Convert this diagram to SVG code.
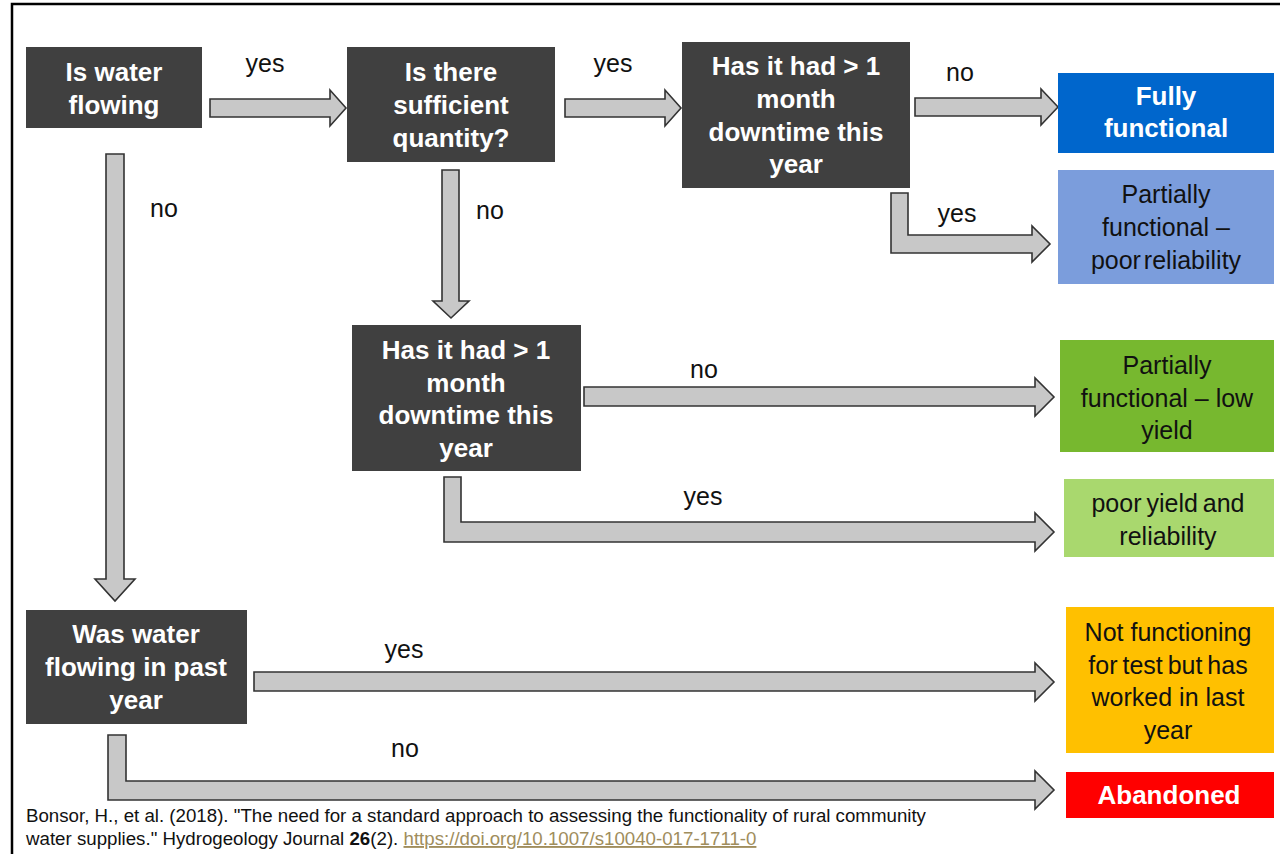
<svg xmlns="http://www.w3.org/2000/svg" width="1280" height="854" viewBox="0 0 1280 854">
<defs>
<style>
.q{fill:#404040}
.qt{font-family:"Liberation Sans",Arial,sans-serif;font-weight:bold;font-size:26px;fill:#fff;text-anchor:middle}
.rt{font-family:"Liberation Sans",Arial,sans-serif;font-size:25px;fill:#111;text-anchor:middle}
.wt{font-family:"Liberation Sans",Arial,sans-serif;font-weight:bold;font-size:26px;fill:#fff;text-anchor:middle}
.lbl{font-family:"Liberation Sans",Arial,sans-serif;font-size:25px;fill:#111;text-anchor:middle}
.ar{fill:#c8c8c8;stroke:#333;stroke-width:1.6;stroke-linejoin:miter}
.cite{font-family:"Liberation Sans",Arial,sans-serif;font-size:18.7px;fill:#111}
</style>
</defs>
<rect x="0" y="0" width="1280" height="854" fill="#fff"/>
<rect x="12" y="4" width="1300" height="900" fill="#fff" stroke="#000" stroke-width="2.5"/>

<g id="connectors">
<path class="ar" d="M210,99 H330 V90 L346,108 L330,126 V117 H210 Z"/>
<path class="ar" d="M565,99 H665 V90 L681,108 L665,126 V117 H565 Z"/>
<path class="ar" d="M915,98 H1041 V89 L1058,107 L1041,125 V116 H915 Z"/>
<path class="ar" d="M891,193 H908 V235 H1032 V226 L1050,244 L1032,262 V253 H891 Z"/>
<path class="ar" d="M106,154 H124 V579 H135 L115,601 L95,579 H106 Z"/>
<path class="ar" d="M442,170 H459 V301 H469 L451,318 L433,301 H442 Z"/>
<path class="ar" d="M584,387 H1035 V378 L1054,397 L1035,416 V406 H584 Z"/>
<path class="ar" d="M444,477 H461 V522 H1035 V513 L1054,532 L1035,551 V542 H444 Z"/>
<path class="ar" d="M254,672 H1035 V663 L1054,682 L1035,701 V691 H254 Z"/>
<path class="ar" d="M108,735 H126 V781 H1035 V771 L1054,790 L1035,809 V800 H108 Z"/>
<text class="lbl" x="265" y="72">yes</text>
<text class="lbl" x="613" y="72">yes</text>
<text class="lbl" x="960" y="81">no</text>
<text class="lbl" x="957" y="222">yes</text>
<text class="lbl" x="164" y="217">no</text>
<text class="lbl" x="490" y="219">no</text>
<text class="lbl" x="704" y="378">no</text>
<text class="lbl" x="703" y="505">yes</text>
<text class="lbl" x="404" y="658">yes</text>
<text class="lbl" x="405" y="757">no</text>
</g>

<g id="q1">
<rect class="q" x="26" y="47" width="176" height="81"/>
<text class="qt" x="114" y="81">Is water</text>
<text class="qt" x="114" y="114">flowing</text>
</g>
<g id="q2">
<rect class="q" x="347" y="47" width="208" height="115"/>
<text class="qt" x="451" y="81">Is there</text>
<text class="qt" x="451" y="114">sufficient</text>
<text class="qt" x="451" y="147">quantity?</text>
</g>
<g id="q3">
<rect class="q" x="682" y="42" width="228" height="146"/>
<text class="qt" x="796" y="75">Has it had &gt; 1</text>
<text class="qt" x="796" y="108">month</text>
<text class="qt" x="796" y="141">downtime this</text>
<text class="qt" x="796" y="173">year</text>
</g>
<g id="q4">
<rect class="q" x="352" y="325" width="229" height="146"/>
<text class="qt" x="466" y="359">Has it had &gt; 1</text>
<text class="qt" x="466" y="392">month</text>
<text class="qt" x="466" y="424">downtime this</text>
<text class="qt" x="466" y="457">year</text>
</g>
<g id="q5">
<rect class="q" x="26" y="610" width="221" height="114"/>
<text class="qt" x="136" y="643">Was water</text>
<text class="qt" x="136" y="676">flowing in past</text>
<text class="qt" x="136" y="709">year</text>
</g>

<g id="r1">
<rect x="1058" y="73" width="216" height="80" fill="#0066cc"/>
<text class="wt" x="1166" y="105">Fully</text>
<text class="wt" x="1166" y="137">functional</text>
</g>
<g id="r2">
<rect x="1058" y="170" width="216" height="114" fill="#7b9ddc"/>
<text class="rt" x="1166" y="203">Partially</text>
<text class="rt" x="1166" y="236">functional –</text>
<text class="rt" x="1166" y="269" word-spacing="-4">poor reliability</text>
</g>
<g id="r3">
<rect x="1060" y="340" width="214" height="112" fill="#77b82f"/>
<text class="rt" x="1167" y="374">Partially</text>
<text class="rt" x="1167" y="407">functional – low</text>
<text class="rt" x="1167" y="439">yield</text>
</g>
<g id="r4">
<rect x="1064" y="479" width="210" height="78" fill="#a9d86e"/>
<text class="rt" x="1168" y="512" word-spacing="-2">poor yield and</text>
<text class="rt" x="1168" y="545">reliability</text>
</g>
<g id="r5">
<rect x="1066" y="607" width="208" height="146" fill="#ffc000"/>
<text class="rt" x="1168" y="641">Not functioning</text>
<text class="rt" x="1168" y="674" word-spacing="-2">for test but has</text>
<text class="rt" x="1168" y="706">worked in last</text>
<text class="rt" x="1168" y="739">year</text>
</g>
<g id="r6">
<rect x="1066" y="772" width="208" height="46" fill="#ff0000"/>
<text class="wt" x="1169" y="804">Abandoned</text>
</g>

<g id="citation">
<text class="cite" x="26" y="822">Bonsor, H., et al. (2018). "The need for a standard approach to assessing the functionality of rural community</text>
<text class="cite" x="26" y="845">water supplies." Hydrogeology Journal <tspan font-weight="bold">26</tspan>(2). <tspan fill="#a08d5c" text-decoration="underline">https://doi.org/10.1007/s10040-017-1711-0</tspan></text>
</g>
</svg>
